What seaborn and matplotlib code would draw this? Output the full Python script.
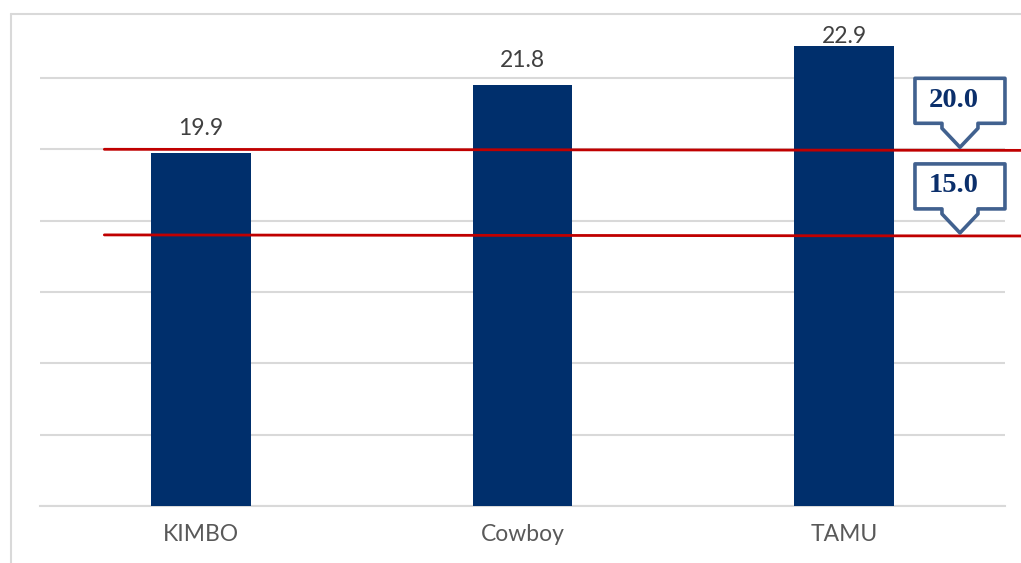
import matplotlib
matplotlib.use("Agg")
import matplotlib.pyplot as plt
import matplotlib.transforms as mtransforms
from matplotlib.patches import Polygon
from matplotlib.lines import Line2D
import seaborn as sns
import pandas as pd

# ---- data ----
categories = ["KIMBO", "Cowboy", "TAMU"]
values = [19.9, 21.8, 22.9]
ref_line_values = [20.0, 17.6]
ref_line_labels = ["20.0", "15.0"]

BAR_COLOR = "#002F6C"
RED = "#C00000"
GRID = "#D9D9D9"

sns.set_theme(style="white")
plt.rcParams["font.family"] = ["Lato", "DejaVu Sans"]

W, H = 1021, 563
fig = plt.figure(figsize=(W / 100, H / 100), dpi=100)

ymin, ymax = 10, 23.9
px_per_unit = 35.67
ax_bottom_px = 506
ax_top_px = ax_bottom_px - (ymax - ymin) * px_per_unit
ax = fig.add_axes([40 / W, (H - ax_bottom_px) / H, (1005 - 40) / W, (ax_bottom_px - ax_top_px) / H])

df = pd.DataFrame({"cat": categories, "val": values})
sns.barplot(data=df, x="cat", y="val", color=BAR_COLOR, width=0.31, saturation=1,
            linewidth=0, ax=ax, zorder=3)

ax.set_ylim(ymin, ymax)
ax.set_xlim(-0.5, 2.5)
ax.set_yticks([10, 12, 14, 16, 18, 20, 22])
ax.yaxis.grid(True, color=GRID, linewidth=1.5, zorder=0)
ax.set_axisbelow(True)
ax.set_yticklabels([])
ax.tick_params(axis="y", length=0)
ax.tick_params(axis="x", length=0, pad=13, labelsize=16.5, labelcolor="#595959")
ax.set_xlabel("")
ax.set_ylabel("")
for s in ["top", "right", "left"]:
    ax.spines[s].set_visible(False)
ax.spines["bottom"].set_color(GRID)
ax.spines["bottom"].set_linewidth(1.5)

# value labels (kept inside the plot area, as the original does)
label_cap = 22.98
for i, v in enumerate(values):
    ax.text(i, min(v + 0.5, label_cap), f"{v:.1f}", ha="center", va="baseline",
            fontsize=16.5, color="#404040", zorder=5)

# outer frame
fig.add_artist(Line2D([11 / W, 11 / W], [0, 1 - 14 / H], transform=fig.transFigure,
                      color=GRID, linewidth=1.5))
fig.add_artist(Line2D([11 / W, 1], [1 - 14 / H, 1 - 14 / H], transform=fig.transFigure,
                      color=GRID, linewidth=1.5))

# reference lines
for v in ref_line_values:
    ax.plot([-0.30, 2.55], [v, v - 0.03], color=RED, linewidth=2, clip_on=False, zorder=4)

# callouts (pixel offsets from the tip)
def px(v):
    return v / 100.0

shape = [(-45, 71), (45, 71), (45, 26), (18, 26), (18, 21), (0, 2),
         (-18, 21), (-18, 26), (-45, 26)]
tip_x = 2.36
for v, lab in zip(ref_line_values, ref_line_labels):
    trans = fig.dpi_scale_trans + mtransforms.ScaledTranslation(tip_x, v, ax.transData)
    poly = Polygon([(px(a), px(b)) for a, b in shape], closed=True, transform=trans,
                   facecolor="white", edgecolor="#41618F", linewidth=2.6,
                   joinstyle="round", clip_on=False, zorder=6)
    ax.add_patch(poly)
    ax.text(px(-6), px(49), lab, transform=trans, ha="center", va="center",
            fontsize=20.5, fontweight="bold", color="#0B2F6B",
            family=["Liberation Serif", "DejaVu Serif"], zorder=7, clip_on=False)

fig.savefig("out.png", dpi=100)
